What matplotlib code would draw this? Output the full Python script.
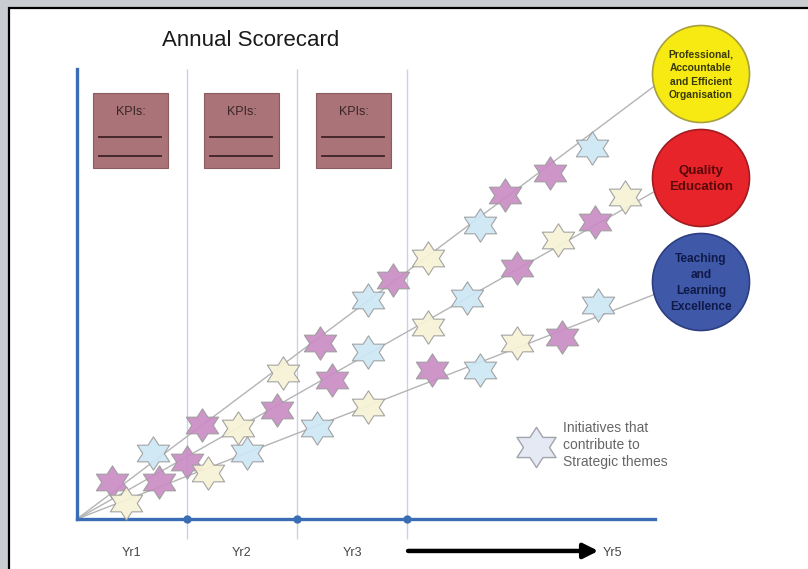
import numpy as np
import matplotlib
matplotlib.use('Agg')
import matplotlib.pyplot as plt
from matplotlib.path import Path
from matplotlib.patches import Rectangle, Circle

plt.rcParams['font.family'] = ['Liberation Sans', 'DejaVu Sans']

# initiatives: x in years, y = progress score (0-100), colour code
top_x = [0.32, 0.69, 1.14, 1.87, 2.21, 2.65, 2.87, 3.19, 3.66, 3.89, 4.30, 4.68]
top_y = [8.2, 14.7, 20.9, 32.4, 39.1, 48.7, 53.1, 58.0, 65.3, 72.0, 76.9, 82.4]
top_c = ['p', 'b', 'p', 'y', 'p', 'b', 'p', 'y', 'b', 'p', 'p', 'b']

mid_x = [0.75, 1.00, 1.46, 1.82, 2.32, 2.65, 3.19, 3.55, 4.00, 4.37, 4.71, 4.98]
mid_y = [8.2, 12.7, 20.2, 24.2, 30.9, 37.1, 42.7, 49.1, 55.8, 62.0, 66.0, 71.6]
mid_c = ['p', 'p', 'y', 'p', 'p', 'b', 'y', 'b', 'p', 'y', 'p', 'y']

low_x = [0.45, 1.19, 1.55, 2.18, 2.65, 3.23, 3.66, 4.00, 4.41, 4.74]
low_y = [3.6, 10.2, 14.7, 20.2, 24.9, 33.1, 33.1, 39.1, 40.4, 47.6]
low_c = ['y', 'y', 'b', 'b', 'y', 'p', 'b', 'y', 'p', 'b']

# trend line end points (theme circles)
line_end_x = [5.26, 5.26, 5.26]
line_end_y = [96.4, 72.9, 50.0]

themes = ['Professional,\nAccountable\nand Efficient\nOrganisation',
          'Quality\nEducation',
          'Teaching\nand\nLearning\nExcellence']
theme_fill = ['#f6ea12', '#e8242b', '#3f58a8']
theme_edge = ['#a8a040', '#a01c20', '#2c3e80']
theme_text = ['#3a3a08', '#5a0808', '#101a48']

year_pos = [0.5, 1.5, 2.5, 4.87]
year_lbl = ['Yr1', 'Yr2', 'Yr3', 'Yr5']
dividers = [1, 2, 3]

star_col = {'p': '#c98cc4', 'b': '#cde7f5', 'y': '#f7f3d6'}
hexa = Path.unit_regular_star(6, innerCircle=0.577)
star = Path(hexa.vertices * [1.12, 1.0], hexa.codes)
axblue = '#3a6db3'

fig = plt.figure(figsize=(8.08, 5.69), dpi=100, facecolor='#c9ccd0')

# background / frame in pixel coordinates
bg = fig.add_axes([0, 0, 1, 1], zorder=0)
bg.set_xlim(0, 808)
bg.set_ylim(569, 0)
bg.axis('off')
bg.add_patch(Rectangle((9, 8), 900, 600, facecolor='white', edgecolor='black', lw=1.6))
bg.text(251, 40, 'Annual Scorecard', fontsize=16, ha='center', va='center', color='#1a1a1a')

for bx in [93, 204, 316]:
    bg.add_patch(Rectangle((bx, 93), 75, 75, facecolor='#a97377', edgecolor='#8a5c5e', lw=0.8))
    bg.text(bx + 37.5, 112, 'KPIs:', fontsize=9, ha='center', va='center', color='#3a2628')
    bg.plot([bx + 6, bx + 68], [137, 137], color='#3e2224', lw=1.3)
    bg.plot([bx + 6, bx + 68], [156, 156], color='#3e2224', lw=1.3)

# legend
bg.plot([536], [447], marker=star, ms=29, color='#e4e9f4', mec='#a2a4ac', mew=1.0)
bg.text(563, 445, 'Initiatives that\ncontribute to\nStrategic themes', fontsize=10,
        ha='left', va='center', color='#666666', linespacing=1.3)

# main chart
ax = fig.add_axes([77 / 808, 50 / 569, 578 / 808, 450 / 569], zorder=1)
ax.patch.set_alpha(0)
ax.set_xlim(0, 5.255)
ax.set_ylim(0, 100)
for s in ['top', 'right']:
    ax.spines[s].set_visible(False)
for s in ['left', 'bottom']:
    ax.spines[s].set_color(axblue)
    ax.spines[s].set_linewidth(2.4)
ax.set_yticks([])
ax.set_xticks(year_pos)
ax.set_xticklabels(year_lbl, fontsize=9, color='#444444')
ax.tick_params(axis='x', length=0, pad=20)

ax.vlines(dividers, -4.5, 100, color='#c9d3e8', lw=1.0, clip_on=False, zorder=1)
ax.plot(dividers, [0, 0, 0], 'o', ms=5, color=axblue, clip_on=False, zorder=3)

for ex, ey in zip(line_end_x, line_end_y):
    ax.plot([0, ex], [0, ey], color='#b4b4b4', lw=1.0, clip_on=False, zorder=2)

for xs, ys, cs in [(top_x, top_y, top_c), (mid_x, mid_y, mid_c), (low_x, low_y, low_c)]:
    for x, y, c in zip(xs, ys, cs):
        ax.plot([x], [y], marker=star, ms=24, color=star_col[c], mec='#9c9c9c',
                mew=0.8, alpha=0.92, clip_on=False, zorder=4)

ax.annotate('', xy=(4.74, -7.1), xytext=(3.01, -7.1), annotation_clip=False,
            arrowprops=dict(arrowstyle='-|>', color='black', lw=3.2, mutation_scale=22,
                            shrinkA=0, shrinkB=0))

# theme circles on top
top = fig.add_axes([0, 0, 1, 1], zorder=2)
top.patch.set_alpha(0)
top.set_xlim(0, 808)
top.set_ylim(569, 0)
top.axis('off')
for cy, name, fc, ec, tc, fs in zip([74, 178, 282], themes, theme_fill, theme_edge,
                                    theme_text, [7.4, 9.5, 8.6]):
    top.add_patch(Circle((701, cy), 48.5, facecolor=fc, edgecolor=ec, lw=1.2))
    top.text(701, cy + 1, name, fontsize=fs, ha='center', va='center', color=tc,
             fontweight='bold', linespacing=1.45)

fig.savefig('out.png', dpi=100, facecolor=fig.get_facecolor())
